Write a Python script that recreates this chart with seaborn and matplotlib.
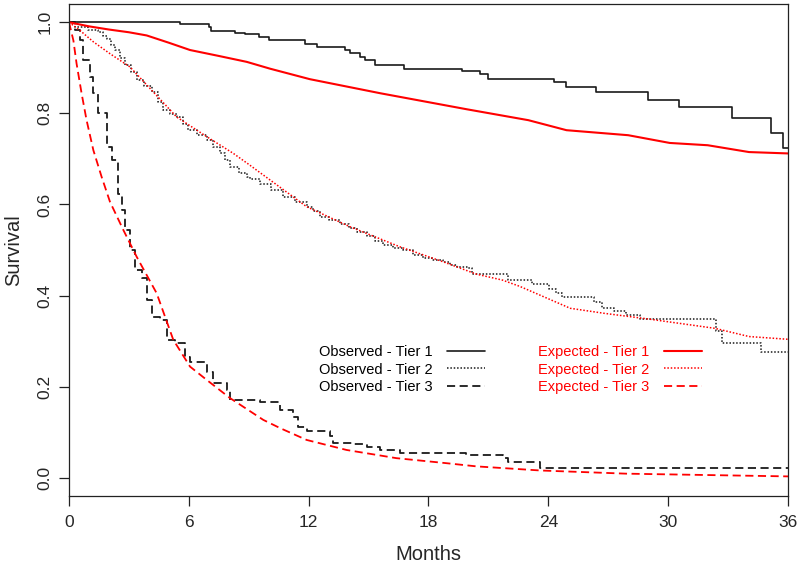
import numpy as np
import pandas as pd
import matplotlib
matplotlib.use("Agg")
import matplotlib.pyplot as plt
import seaborn as sns

# observed Kaplan-Meier steps (months, survival)
obs_t1_months = [0, 5.56, 7.0, 7.1, 8.3, 8.8, 9.5, 10.0, 11.8, 12.4, 13.84, 14.08, 14.57, 14.82,
                 15.34, 16.77, 19.68, 20.6, 20.98, 24.27, 24.86, 26.37, 28.99, 30.55, 33.19,
                 35.17, 35.77, 36]
obs_t1_surv = [1.0, 0.996, 0.99, 0.98, 0.977, 0.974, 0.968, 0.96, 0.952, 0.946, 0.94, 0.932, 0.924,
               0.918, 0.906, 0.898, 0.893, 0.886, 0.876, 0.869, 0.858, 0.847, 0.830, 0.814, 0.790,
               0.757, 0.723, 0.723]

obs_t2_months = [0, 0.3, 0.97, 1.47, 1.7, 1.89, 2.1, 2.3, 2.55, 2.8, 3.1, 3.39, 3.75, 4.14, 4.45,
                 4.72, 5.05, 5.39, 5.7, 5.97, 6.4, 6.89, 7.2, 7.56, 7.8, 8.06, 8.5, 8.9, 9.06, 9.56,
                 10.1, 10.73, 11.3, 11.9, 12.2, 12.57, 13.0, 13.57, 14.0, 14.4, 14.9, 15.3, 15.74,
                 16.2, 16.74, 17.2, 17.74, 18.2, 18.74, 19.1, 19.41, 20.0, 20.16, 22.0, 23.2,
                 24.04, 24.4, 24.7, 26.3, 26.7, 27.3, 27.9, 28.6, 32.4, 32.7, 34.65, 36]
obs_t2_surv = [1.0, 0.99, 0.984, 0.979, 0.97, 0.964, 0.95, 0.939, 0.922, 0.906, 0.89, 0.873, 0.86,
               0.847, 0.825, 0.807, 0.798, 0.792, 0.777, 0.763, 0.752, 0.741, 0.727, 0.712, 0.697,
               0.683, 0.668, 0.66, 0.655, 0.645, 0.632, 0.617, 0.605, 0.595, 0.585, 0.573, 0.566,
               0.558, 0.548, 0.540, 0.53, 0.52, 0.511, 0.505, 0.5, 0.49, 0.482, 0.478, 0.474,
               0.468, 0.463, 0.46, 0.447, 0.434, 0.425, 0.414, 0.405, 0.397, 0.385, 0.372, 0.365,
               0.357, 0.349, 0.322, 0.296, 0.277, 0.277]

obs_t3_months = [0, 0.3, 0.55, 0.72, 1.05, 1.22, 1.47, 1.89, 2.14, 2.47, 2.64, 2.8, 3.05, 3.3,
                 3.64, 3.89, 4.14, 4.56, 4.89, 5.31, 5.81, 6.06, 6.89, 7.23, 7.9, 8.06, 9.56,
                 10.57, 11.23, 11.48, 11.9, 13.07, 13.24, 14.24, 14.91, 15.57, 16.57, 19.9,
                 21.75, 22.0, 23.59, 36]
obs_t3_surv = [1.0, 0.982, 0.96, 0.917, 0.88, 0.844, 0.8, 0.727, 0.697, 0.624, 0.588, 0.544, 0.5,
               0.456, 0.438, 0.39, 0.354, 0.346, 0.303, 0.295, 0.266, 0.255, 0.233, 0.208, 0.193,
               0.171, 0.167, 0.149, 0.134, 0.112, 0.102, 0.091, 0.077, 0.0745, 0.067, 0.061,
               0.054, 0.05, 0.043, 0.034, 0.021, 0.021]

# expected survival curves
exp_t1_months = [0, 1.0, 2.0, 3.0, 3.89, 5.0, 6.06, 7.5, 8.9, 10.07, 12.06, 15.6, 19.91, 23.0,
                 24.91, 28.0, 30.08, 31.98, 34.05, 36]
exp_t1_surv = [1.0, 0.991, 0.984, 0.978, 0.971, 0.955, 0.939, 0.926, 0.913, 0.898, 0.875, 0.844,
               0.809, 0.785, 0.763, 0.752, 0.735, 0.730, 0.715, 0.712]

exp_t2_months = [0, 0.55, 1.22, 2.05, 3.05, 4.22, 5.39, 6.89, 8.23, 9.0, 9.56, 11.9, 14.07, 16.57,
                 18.74, 20.4, 21.7, 22.58, 25.1, 26.8, 29.1, 32.35, 34.05, 36]
exp_t2_surv = [1.0, 0.982, 0.957, 0.931, 0.902, 0.847, 0.792, 0.749, 0.712, 0.688, 0.67, 0.595,
               0.551, 0.507, 0.474, 0.447, 0.434, 0.42, 0.372, 0.361, 0.348, 0.328, 0.31, 0.304]

exp_t3_months = [0, 0.22, 0.38, 0.63, 0.88, 1.22, 1.63, 2.05, 2.72, 3.39, 4.39, 5.22, 6.06, 6.89,
                 8.06, 9.73, 10.57, 11.9, 13.9, 16.4, 18.9, 20.4, 23.59, 27.9, 36]
exp_t3_surv = [1.0, 0.96, 0.909, 0.844, 0.785, 0.719, 0.661, 0.606, 0.544, 0.485, 0.405, 0.303,
               0.244, 0.215, 0.175, 0.127, 0.109, 0.083, 0.061, 0.043, 0.032, 0.025, 0.016,
               0.009, 0.003]

series = [
    ("Observed - Tier 1", obs_t1_months, obs_t1_surv, "#1a1a1a", "-", "steps-post", 1.2),
    ("Observed - Tier 2", obs_t2_months, obs_t2_surv, "#1a1a1a", (0, (1, 1.2)), "steps-post", 1.1),
    ("Observed - Tier 3", obs_t3_months, obs_t3_surv, "#1a1a1a", (0, (4.5, 2.5)), "steps-post", 1.3),
    ("Expected - Tier 1", exp_t1_months, exp_t1_surv, "red", "-", "default", 1.5),
    ("Expected - Tier 2", exp_t2_months, exp_t2_surv, "red", (0, (1, 1.2)), "default", 1.1),
    ("Expected - Tier 3", exp_t3_months, exp_t3_surv, "red", (0, (4.5, 2.5)), "default", 1.3),
]

sns.set_style("ticks")
plt.rcParams["font.family"] = ["Liberation Sans", "DejaVu Sans"]

fig, ax = plt.subplots(figsize=(8, 5.66), dpi=100)
fig.subplots_adjust(left=0.08625, right=0.985, bottom=0.1237, top=0.9929)

for name, xs, ys, color, ls, ds, lw in series:
    df = pd.DataFrame({"Months": xs, "Survival": ys})
    sns.lineplot(data=df, x="Months", y="Survival", ax=ax, color=color, linestyle=ls,
                 drawstyle=ds, linewidth=lw, estimator=None, sort=False, label=name)

ax.set_xlim(0, 36)
ax.set_ylim(-0.04, 1.04)
ax.set_xticks(np.arange(0, 37, 6))
ax.set_yticks([0, 0.2, 0.4, 0.6, 0.8, 1.0])
ax.set_yticklabels(["0.0", "0.2", "0.4", "0.6", "0.8", "1.0"], rotation=90, va="center")
ax.tick_params(axis="both", length=7.5, width=0.9, color="#222222", labelsize=12.5)
ax.tick_params(axis="x", pad=6)
ax.tick_params(axis="y", pad=4.5)
for sp in ax.spines.values():
    sp.set_visible(True)
    sp.set_color("#222222")
    sp.set_linewidth(0.9)

ax.set_xlabel("Months", fontsize=14.5, labelpad=11)
ax.set_ylabel("Survival", fontsize=14.5, labelpad=10)

handles, labels = ax.get_legend_handles_labels()
ax.legend(handles, labels, ncol=2, loc="center", bbox_to_anchor=(0.614, 0.257),
          frameon=False, markerfirst=False, fontsize=10.5, handlelength=2.65,
          handletextpad=1.0, columnspacing=3.6, labelspacing=0.25,
          labelcolor=["black"] * 3 + ["red"] * 3)

fig.savefig("out.png", dpi=100)
